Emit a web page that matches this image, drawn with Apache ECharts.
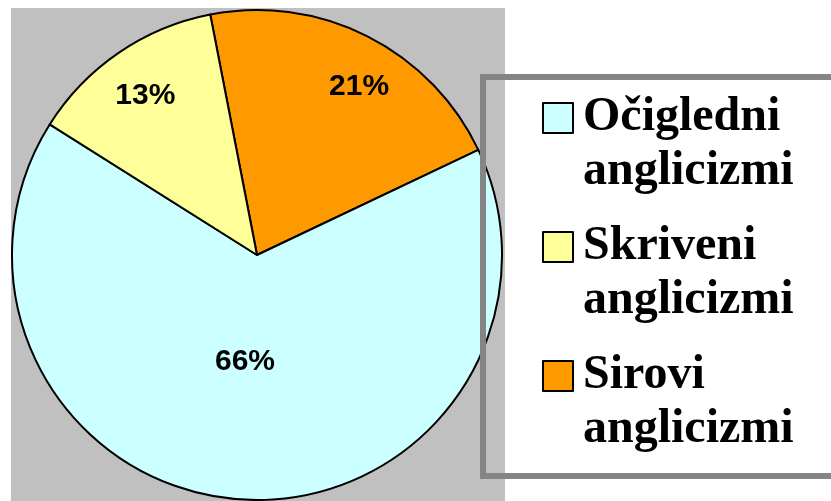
<!DOCTYPE html>
<html>
<head>
<meta charset="utf-8">
<script src="https://cdn.jsdelivr.net/npm/echarts@6/dist/echarts.min.js"></script>
<style>
html,body{margin:0;padding:0;background:#fff;}
#c{width:831px;height:501px;}
</style>
</head>
<body>
<div id="c"></div>
<script>
// Data (drawn clockwise from the top)
const categories = ['Sirovi anglicizmi', 'Očigledni anglicizmi', 'Skriveni anglicizmi'];
const values = [21, 66, 13];
const legendOrder = ['Očigledni anglicizmi', 'Skriveni anglicizmi', 'Sirovi anglicizmi'];
const labelTexts = ['21%', '66%', '13%'];

// Styling
const colors = ['#ff9900', '#ccffff', '#ffff99'];
const labelRadiusFrac = [0.804, 0.44, 0.795];
const labelAngleShift = [-4.4, -3, 0.6];

const CX = 257, CY = 255, R = 245, START = 101;

const chart = echarts.init(document.getElementById('c'), null, {renderer: 'canvas'});

const total = values.reduce((a, b) => a + b, 0);
const cum = [];
values.reduce((acc, v, i) => { cum[i] = acc; return acc + v; }, 0);

chart.setOption({
  animation: false,
  backgroundColor: '#ffffff',
  graphic: {
    elements: [
      { type: 'rect', z: 0, silent: true,
        shape: { x: 11, y: 8, width: 494, height: 493 },
        style: { fill: '#c0c0c0' } },
      { type: 'rect', z: 100, silent: true,
        shape: { x: 483, y: 77, width: 400, height: 399 },
        style: { fill: null, stroke: '#858585', lineWidth: 6 } }
    ]
  },
  legend: {
    orient: 'vertical',
    left: 542,
    top: 37,
    padding: 0,
    itemGap: -33,
    itemWidth: 30,
    itemHeight: 30,
    icon: 'rect',
    selectedMode: false,
    data: legendOrder,
    formatter: name => '\n' + name.replace(' ', '\n'),
    itemStyle: { borderColor: '#000', borderWidth: 2 },
    textStyle: {
      fontFamily: 'Liberation Serif',
      fontWeight: 'bold',
      fontSize: 48,
      lineHeight: 54,
      color: '#000',
      padding: [0, 0, 0, 5]
    }
  },
  series: [{
    type: 'pie',
    z: 2,
    center: [CX, CY],
    radius: [0, R],
    startAngle: START,
    clockwise: true,
    avoidLabelOverlap: false,
    emphasis: { disabled: true },
    itemStyle: { borderColor: '#000', borderWidth: 2 },
    label: {
      show: true,
      position: 'inside',
      formatter: p => labelTexts[p.dataIndex],
      fontFamily: 'Liberation Sans',
      fontWeight: 'bold',
      fontSize: 30,
      color: '#000'
    },
    labelLine: { show: false },
    labelLayout: function (p) {
      const i = p.dataIndex;
      const mid = START - (cum[i] + values[i] / 2) / total * 360 + labelAngleShift[i];
      const a = mid * Math.PI / 180;
      const r = R * labelRadiusFrac[i];
      return { x: CX + r * Math.cos(a), y: CY - r * Math.sin(a), align: 'center', verticalAlign: 'middle' };
    },
    data: categories.map((n, i) => ({ name: n, value: values[i], itemStyle: { color: colors[i] } }))
  }]
});
</script>
</body>
</html>
